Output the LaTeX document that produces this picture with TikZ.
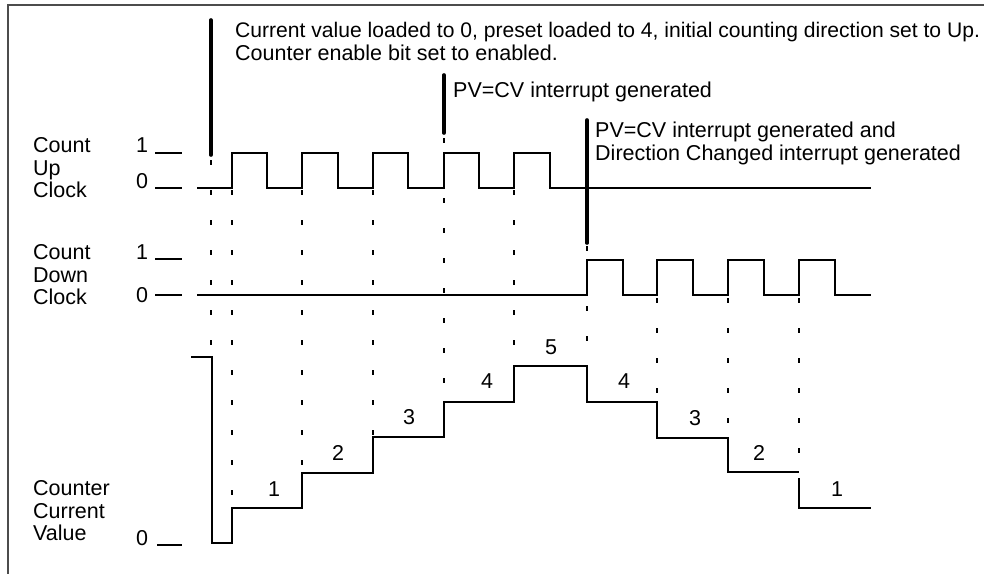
\documentclass[tikz,border=0pt]{standalone}
\usepackage{fontspec}
\setmainfont{Liberation Sans}
\begin{document}
\begin{tikzpicture}[x=1pt,y=-1pt,
  frame/.style={draw=black!70,line width=1.3pt},
  sig/.style={draw=black,line width=1.1pt},
  lvl/.style={draw=black,line width=1.1pt},
  dsh/.style={draw=black,line width=1.2pt,dash pattern=on 5pt off 25pt},
  bar/.style={draw=black,line width=3.6pt,line cap=round},
  lbl/.style={anchor=base west,inner sep=0pt,font=\fontsize{21.5}{24}\selectfont},
  num/.style={anchor=base,inner sep=0pt,font=\fontsize{21.5}{24}\selectfont}]
\useasboundingbox (0,0) rectangle (984,574);
\fill[white] (0,0) rectangle (984,574);
% frame
\draw[frame] (984,5) -- (8,5) -- (8,574);

% left labels
\node[lbl] (cu1) at (33,152) {Count};
\node[lbl] (cu2) at (33,175) {Up};
\node[lbl] (cu3) at (33,197) {Clock};
\node[lbl] (cd1) at (33,259) {Count};
\node[lbl] (cd2) at (33,282) {Down};
\node[lbl] (cd3) at (33,304) {Clock};
\node[lbl] (cv1) at (33,495) {Counter};
\node[lbl] (cv2) at (33,518) {Current};
\node[lbl] (cv3) at (33,540) {Value};

% level marks
\node[lbl] (u1) at (136,152) {1};
\node[lbl] (u0) at (136,188) {0};
\node[lbl] (d1) at (136,259) {1};
\node[lbl] (d0) at (136,302) {0};
\node[lbl] (v0) at (136,545) {0};
\draw[lvl] (155,153) -- (182,153);
\draw[lvl] (155,188) -- (182,188);
\draw[lvl] (155,259) -- (182,259);
\draw[lvl] (155,295) -- (182,295);
\draw[lvl] (157,545) -- (182,545);

% dashed time markers
\draw[dsh] (211,160) -- (211,355);
\draw[dsh] (232,190) -- (232,508);
\draw[dsh] (302,190) -- (302,473);
\draw[dsh] (373,190) -- (373,437);
\draw[dsh] (444,138) -- (444,402);
\draw[dsh] (514,190) -- (514,366);
\draw[dsh] (587,246) -- (587,366);
\draw[dsh] (657,298) -- (657,402);
\draw[dsh] (728,298) -- (728,438);
\draw[dsh] (799,298) -- (799,472);

% count up clock
\draw[sig] (197,188) -| (232,153) -| (267,188) -| (302,153) -| (338,188)
  -| (373,153) -| (408,188) -| (444,153) -| (479,188) -| (514,153)
  -| (550,188) -- (871,188);
% count down clock
\draw[sig] (197,295) -| (587,260) -| (623,295) -| (657,260) -| (693,295)
  -| (728,260) -| (764,295) -| (799,260) -| (835,295) -- (871,295);
% counter current value
\draw[sig] (191,357) -| (212,543) -| (232,508) -| (302,473) -| (373,437)
  -| (444,402) -| (514,366) -| (587,402) -| (657,438) -| (728,472) -- (799,472);
\draw[sig] (799,478) -- (799,508) -- (871,508);

% values
\node[num] (n1) at (274,496) {1};
\node[num] (n2) at (338,460) {2};
\node[num] (n3) at (409,424) {3};
\node[num] (n4) at (487,388) {4};
\node[num] (n5) at (551,354) {5};
\node[num] (n6) at (624,388) {4};
\node[num] (n7) at (695,425) {3};
\node[num] (n8) at (759,460) {2};
\node[num] (n9) at (837,496) {1};

% event bars
\draw[bar] (211,20) -- (211,155);
\draw[bar] (444,75) -- (444,133);
\draw[bar] (587,120) -- (587,243);

% annotations
\node[lbl,font=\fontsize{21.1}{24}\selectfont] (t1) at (235,37) {Current value loaded to 0, preset loaded to 4, initial counting direction set to Up.};
\node[lbl] (t2) at (235,60) {Counter enable bit set to enabled.};
\node[lbl] (t3) at (453,97) {PV=CV interrupt generated};
\node[lbl] (t4) at (595,137) {PV=CV interrupt generated and};
\node[lbl] (t5) at (595,160) {Direction Changed interrupt generated};
\end{tikzpicture}
\end{document}
